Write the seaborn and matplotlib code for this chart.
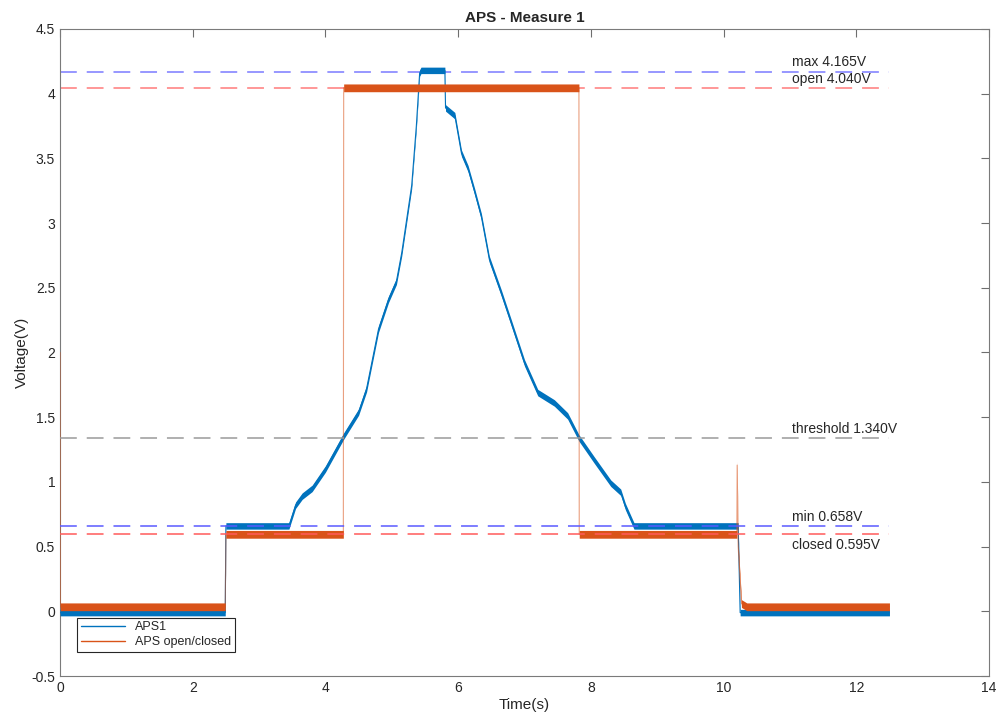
import matplotlib
matplotlib.use("Agg")
import matplotlib.pyplot as plt
from matplotlib.ticker import FormatStrFormatter
import seaborn as sns
import pandas as pd
import numpy as np

# ---- data ----
aps1_t = [0, 2.49, 2.5, 3.45, 3.55, 3.65, 3.8, 4.0, 4.27, 4.5, 4.62, 4.8, 4.95,
          5.07, 5.15, 5.3, 5.37, 5.42, 5.44, 5.8, 5.81, 5.95, 6.05, 6.15, 6.25,
          6.35, 6.47, 6.65, 6.8, 7.0, 7.2, 7.45, 7.65, 7.82, 8.05, 8.3, 8.45,
          8.52, 8.65, 10.22, 10.25, 12.5]
aps1_v = [-0.01, -0.01, 0.66, 0.66, 0.82, 0.89, 0.95, 1.1, 1.35, 1.54, 1.72,
          2.18, 2.41, 2.55, 2.77, 3.29, 3.75, 4.16, 4.18, 4.18, 3.89, 3.83,
          3.54, 3.42, 3.24, 3.05, 2.72, 2.46, 2.23, 1.92, 1.69, 1.61, 1.51,
          1.34, 1.17, 0.99, 0.92, 0.81, 0.66, 0.66, -0.01, -0.01]

oc_t = [0, 0.005, 2.49, 2.5, 4.27, 4.275, 7.82, 7.825, 10.2, 10.205, 10.22,
        10.27, 10.35, 12.5]
oc_v = [2.0, 0.035, 0.035, 0.595, 0.595, 4.045, 4.045, 0.595, 0.595, 1.13,
        0.5, 0.06, 0.035, 0.035]

ref_names = ["max", "open", "threshold", "min", "closed"]
ref_values = [4.165, 4.040, 1.340, 0.658, 0.595]
t_end = 12.5

df1 = pd.DataFrame({"t": aps1_t, "v": aps1_v})
df2 = pd.DataFrame({"t": oc_t, "v": oc_v})

# ---- style ----
sns.set_style("white")
plt.rcParams["font.family"] = ["Liberation Sans", "DejaVu Sans"]
plt.rcParams.update({"xtick.direction": "in", "ytick.direction": "in",
                     "xtick.top": True, "ytick.right": True,
                     "xtick.major.size": 6, "ytick.major.size": 6,
                     "xtick.color": "#6e6e6e", "ytick.color": "#6e6e6e",
                     "xtick.labelcolor": "#262626", "ytick.labelcolor": "#262626"})

fig = plt.figure(figsize=(10, 7.15), dpi=100)
ax = fig.add_axes([0.06, 0.0545, 0.929, 0.905])

blue = "#0072BD"
orange = "#D95319"

# noise band (visual thickness of the recorded signals)
ax.fill_between(df1["t"], df1["v"] - 0.025, df1["v"] + 0.025, color=blue, lw=0, zorder=3)
sns.lineplot(data=df1, x="t", y="v", ax=ax, sort=False, estimator=None,
             color=blue, lw=0.8, label="APS1", zorder=3)
ax.fill_between(df2["t"], df2["v"] - 0.03, df2["v"] + 0.03, color=orange, lw=0, zorder=4)
sns.lineplot(data=df2, x="t", y="v", ax=ax, sort=False, estimator=None,
             color=orange, lw=0.8, alpha=0.55, label="APS open/closed", zorder=4)

# reference lines
ref_colors = ["#7b7bff", "#ff7b7b", "#9a9a9a", "#5a5aff", "#ff5a5a"]
ref_z = [2, 2, 5, 5, 5]
ref_off = [0.045, 0.045, 0.04, 0.04, -0.115]
for name, val, c, z, off in zip(ref_names, ref_values, ref_colors, ref_z, ref_off):
    ax.plot([0, t_end], [val, val], ls=(0, (11, 6.5)), color=c, lw=1.1, zorder=z)
    ax.text(11.03, val + off, f"{name} {val:.3f}V", fontsize=10, va="baseline",
            ha="left", color="#262626")

ax.set_xlim(0, 14)
ax.set_ylim(-0.5, 4.5)
ax.set_xticks(np.arange(0, 15, 2))
ax.set_yticks(np.arange(-0.5, 4.6, 0.5))
ax.yaxis.set_major_formatter(FormatStrFormatter("%g"))
ax.tick_params(labelsize=10)
for s in ax.spines.values():
    s.set_color("#7a7a7a")
    s.set_linewidth(0.8)

ax.set_title("APS - Measure 1", fontsize=11, fontweight="bold", pad=5)
ax.set_xlabel("Time(s)", fontsize=11, labelpad=2)
ax.set_ylabel("Voltage(V)", fontsize=11, labelpad=2)

leg = ax.legend(loc="lower left", bbox_to_anchor=(0.012, 0.028), fontsize=9,
                fancybox=False, framealpha=1, edgecolor="#262626",
                handlelength=3.5, borderpad=0.3, labelspacing=0.2)
leg.get_frame().set_linewidth(0.8)
for h in leg.get_lines():
    h.set_linewidth(1.0)
    h.set_alpha(1)

fig.savefig("out.png", dpi=100)
